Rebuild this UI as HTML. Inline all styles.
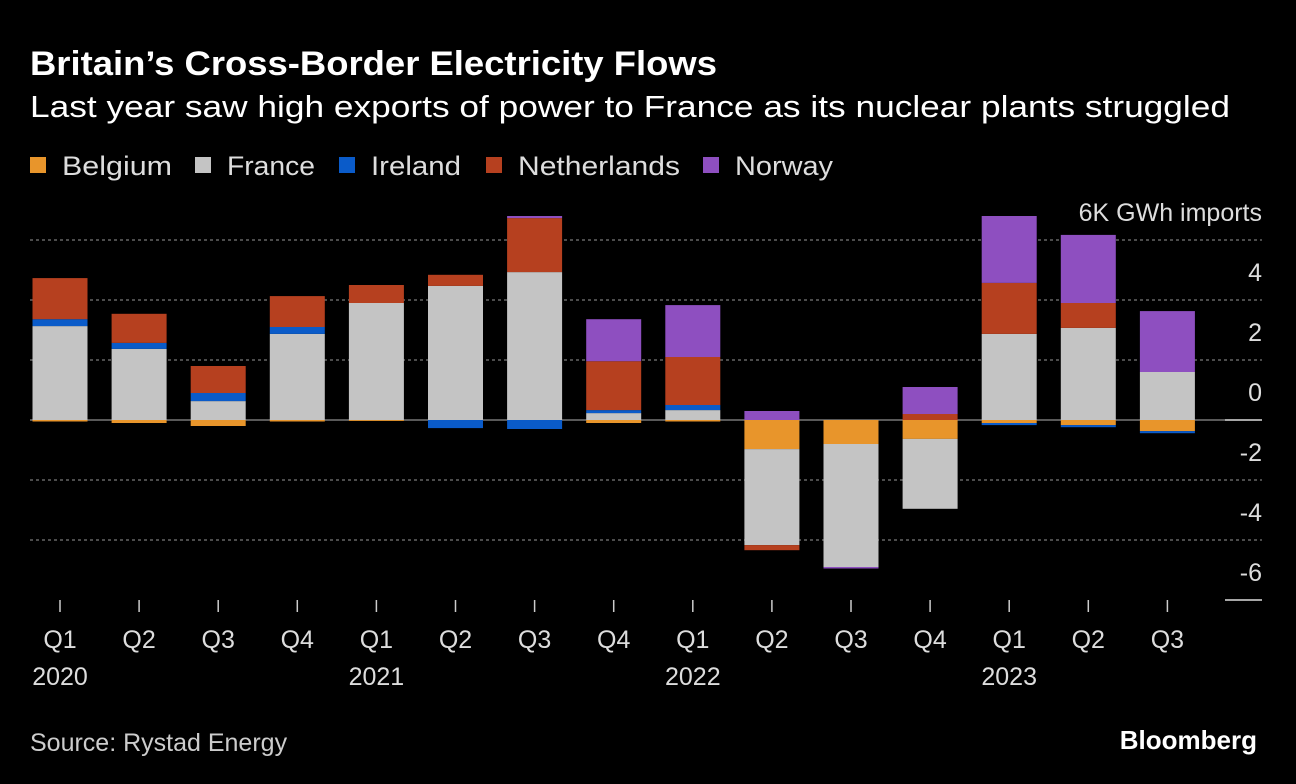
<!DOCTYPE html>
<html><head><meta charset="utf-8"><style>
body{margin:0;background:#000;width:1296px;height:784px;overflow:hidden;font-family:"Liberation Sans",sans-serif;color:#fff}
</style></head><body>
<svg width="1296" height="784" style="position:absolute;left:0;top:0">
<text x="30" y="75" font-size="34" font-weight="bold" fill="#fff" textLength="687" lengthAdjust="spacingAndGlyphs">Britain’s Cross-Border Electricity Flows</text>
<text x="30" y="117" font-size="31" fill="#fff" textLength="1200" lengthAdjust="spacingAndGlyphs">Last year saw high exports of power to France as its nuclear plants struggled</text>
<g id="legend"></g>
<g id="grid"></g>
<g id="bars"></g>
<g id="xaxis"></g>
<text x="30" y="751" font-size="25" fill="#ccc">Source: Rystad Energy</text>
<text x="1257" y="749" font-size="26" font-weight="bold" fill="#fff" text-anchor="end">Bloomberg</text>
</svg>
<script>
const quarters=["Q1","Q2","Q3","Q4","Q1","Q2","Q3","Q4","Q1","Q2","Q3","Q4","Q1","Q2","Q3"];
const years=["2020","","","","2021","","","","2022","","","","2023","",""];
const seriesNames=["Belgium","France","Ireland","Netherlands","Norway"];
const belgium=[-0.05,-0.1,-0.2,-0.05,-0.03,0,0,-0.1,-0.05,-0.97,-0.8,-0.63,-0.1,-0.17,-0.37];
const france=[3.13,2.37,0.63,2.87,3.9,4.47,4.93,0.23,0.33,-3.2,-4.1,-2.33,2.87,3.07,1.6];
const ireland=[0.23,0.2,0.27,0.23,0,-0.27,-0.3,0.1,0.17,0,0,0,-0.07,-0.07,-0.07];
const netherlands=[1.37,0.97,0.9,1.03,0.6,0.37,1.8,1.63,1.6,-0.17,0,0.2,1.7,0.83,0];
const norway=[0,0,0,0,0,0,0.07,1.4,1.73,0.3,-0.05,0.9,2.23,2.27,2.03];
const yTicks=[6,4,2,0,-2,-4,-6];
const colors=["#e8952b","#c4c4c4","#0a5bc9","#b6401f","#8e4fc0"];
const NS="http://www.w3.org/2000/svg";
const y=v=>420-v*30;
const xc=i=>60+i*79.1;
const bw=55;
function mk(tag,attrs,parent){const e=document.createElementNS(NS,tag);for(const k in attrs)e.setAttribute(k,attrs[k]);parent.appendChild(e);return e;}
const grid=document.getElementById('grid'),bars=document.getElementById('bars'),xa=document.getElementById('xaxis'),lg=document.getElementById('legend');
const legendX=[30,195,339,486,703];
const legendW=[110,88,90,162,98];
seriesNames.forEach((n,i)=>{
 const g=mk('g',{},lg);
 
 
 mk('rect',{x:legendX[i],y:157,width:16,height:16,fill:colors[i]},g);
 const t=mk('text',{x:legendX[i]+32,y:175,'font-size':27,fill:'#ddd',textLength:legendW[i],lengthAdjust:'spacingAndGlyphs'},g);t.textContent=n;
});
yTicks.forEach(v=>{
 const yy=y(v);
 if(v===0){const l=mk('line',{x1:30,x2:1225,y1:yy,y2:yy,stroke:'#777','stroke-width':1.5},grid);
  mk('line',{x1:1225,x2:1262,y1:yy,y2:yy,stroke:'#ddd','stroke-width':1.5},grid);}
 else if(v===-6){const l=mk('line',{x1:1225,x2:1262,y1:yy,y2:yy,stroke:'#ddd','stroke-width':1.5},grid);}
 else{const l=mk('line',{x1:30,x2:1262,y1:yy,y2:yy,stroke:'#666','stroke-width':1.5,'stroke-dasharray':'3,3'},grid);}
 const t=mk('text',{x:1262,y:yy-19,'font-size':25,fill:'#ddd','text-anchor':'end'},grid);
 t.textContent=v===6?'6K GWh imports':String(v);
 
});
const all=[belgium,france,ireland,netherlands,norway];
quarters.forEach((q,i)=>{
 let pos=0,neg=0;
 all.forEach((s,k)=>{
  const v=s[i];if(!v)return;
  let y0,y1;
  if(v>0){y0=pos;y1=pos+v;pos=y1;}else{y0=neg;y1=neg+v;neg=y1;}
  const r=mk('rect',{x:xc(i)-bw/2,y:Math.min(y(y0),y(y1)),width:bw,height:Math.abs(y(y1)-y(y0)),fill:colors[k]},bars);
  
  
 });
 mk('line',{x1:xc(i),x2:xc(i),y1:600,y2:612,stroke:'#ccc','stroke-width':1.5},xa);
 const t=mk('text',{x:xc(i),y:648,'font-size':25,fill:'#ddd','text-anchor':'middle'},xa);t.textContent=q;
 
 if(years[i]){const t2=mk('text',{x:xc(i),y:685,'font-size':25,fill:'#ddd','text-anchor':'middle'},xa);t2.textContent=years[i];
 }
});
</script>
</body></html>
